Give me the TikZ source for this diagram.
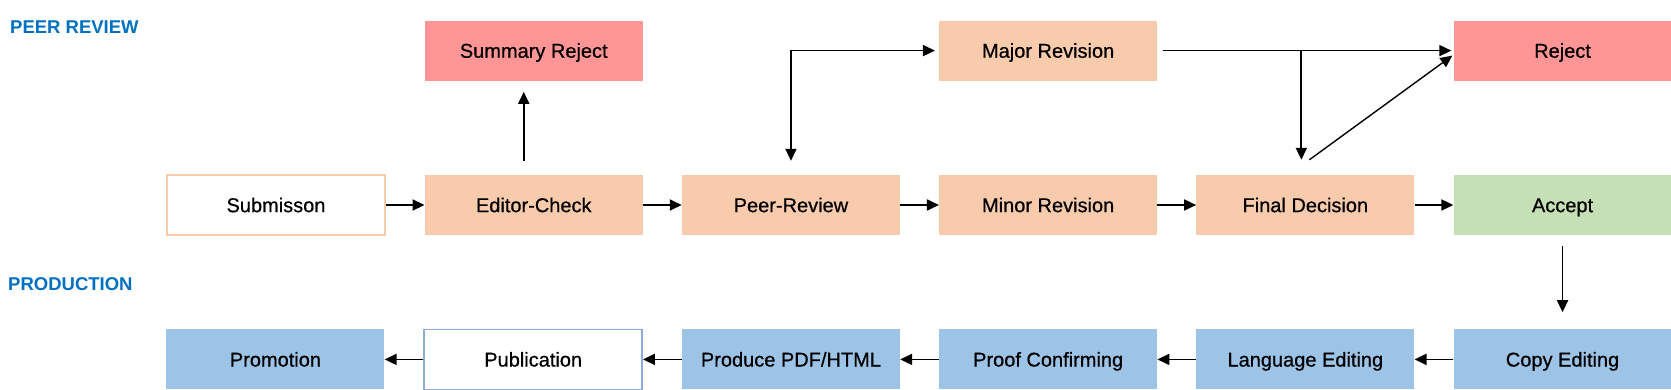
\documentclass[tikz,border=0pt]{standalone}
\usepackage{fontspec}
\setmainfont{Liberation Sans}
\newfontfamily\boxfont[FakeBold=0.6]{Liberation Sans}
\usepackage{xcolor}
\usetikzlibrary{arrows.meta,positioning}

\definecolor{peach}{HTML}{F8CBAD}
\definecolor{rose}{HTML}{FF9595}
\definecolor{mint}{HTML}{C5E0B4}
\definecolor{sky}{HTML}{9DC3E6}
\definecolor{skyline}{HTML}{8FAADC}
\definecolor{headblue}{HTML}{0070C0}

\begin{document}
\begin{tikzpicture}[x=1pt, y=-1pt, node distance=94pt and 38.8pt,
  box/.style={minimum width=218pt, minimum height=60pt, inner sep=0pt, text height=14.3pt, text depth=0pt,
    font=\boxfont\fontsize{20}{24}\selectfont},
  arr/.style={-{Triangle[length=12pt,width=11pt]}, line width=1.8pt},
  head/.style={anchor=west, inner sep=0pt, text=headblue, font=\fontsize{18.5}{22}\selectfont\bfseries}]
  \useasboundingbox (0,0) rectangle (1671,390);

  \node[head] (hpeer) at (10,27) {PEER REVIEW};
  \node[head] (hprod) at (8,284) {PRODUCTION};

  % peer review row
  \node[box, draw=peach, line width=1.5pt] (sub) at (276,205) {Submisson};
  \node[box, fill=peach, right=of sub] (ed) {Editor-Check};
  \node[box, fill=peach, right=of ed] (peer) {Peer-Review};
  \node[box, fill=peach, right=of peer] (minor) {Minor Revision};
  \node[box, fill=peach, right=of minor] (final) {Final Decision};
  \node[box, fill=mint, right=of final] (acc) {Accept};
  \node[box, fill=rose, above=of ed] (sumrej) {Summary Reject};
  \node[box, fill=peach, above=of minor] (major) {Major Revision};
  \node[box, fill=rose, above=of acc] (rej) {Reject};

  % production row
  \node[box, fill=sky, below=of acc] (copy) {Copy Editing};
  \node[box, fill=sky, left=of copy] (lang) {Language Editing};
  \node[box, fill=sky, left=of lang] (proof) {Proof Confirming};
  \node[box, fill=sky, left=of proof] (pdf) {Produce PDF/HTML};
  \node[box, draw=skyline, line width=1.5pt, left=of pdf] (pub) {Publication};
  \node[box, fill=sky, left=of pub] (promo) {Promotion};

  \foreach \a/\b in {sub/ed, ed/peer, peer/minor, minor/final, final/acc,
                     copy/lang, lang/proof, proof/pdf, pdf/pub, pub/promo} {
    \draw[arr] (\a) -- (\b);
  }
  \draw[arr] ([shift={(-10,-14)}]ed.north) -- ([shift={(-10,11)}]sumrej.south);
  \draw[arr, {Triangle[length=12pt,width=11pt]}-{Triangle[length=12pt,width=11pt]}]
    ([yshift=14pt]peer.north) |- ([xshift=-4pt]major.west);
  \draw[arr] ([xshift=6pt]major.east) -- ([xshift=-2pt]rej.west);
  \draw[arr] ([xshift=-4pt]final.north |- major.east) -- ([shift={(-4,-15)}]final.north);
  \draw[arr, line width=1.4pt] ([shift={(4,-15)}]final.north) -- ([shift={(-1,5)}]rej.west);
  \draw[arr] ([yshift=-11pt]acc.south) -- ([yshift=17pt]copy.north);
\end{tikzpicture}
\end{document}
